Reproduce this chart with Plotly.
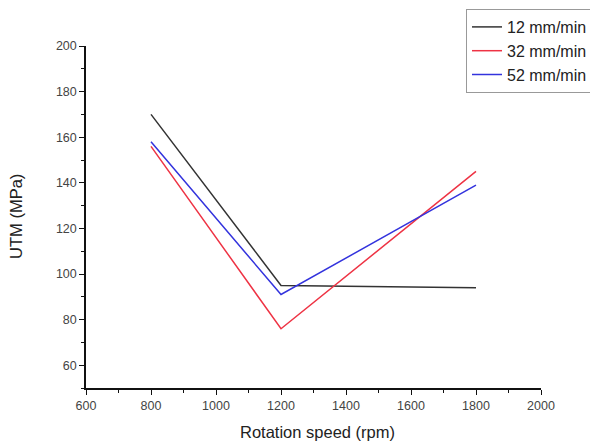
import plotly.graph_objects as go

speeds = [800, 1200, 1800]
series_names = ["12 mm/min", "32 mm/min", "52 mm/min"]
utm_12 = [170, 95, 94]
utm_32 = [156, 76, 145]
utm_52 = [158, 91, 139]
colors = ["#333333", "#ee3344", "#3333dd"]

x_ticks = [600, 800, 1000, 1200, 1400, 1600, 1800, 2000]
y_ticks = [60, 80, 100, 120, 140, 160, 180, 200]
x_title = "Rotation speed (rpm)"
y_title = "UTM (MPa)"

FONT = "Arial, Liberation Sans"

fig = go.Figure()
for name, vals, c in zip(series_names, [utm_12, utm_32, utm_52], colors):
    fig.add_trace(go.Scatter(x=speeds, y=vals, mode="lines", name=name,
                             line=dict(color=c, width=1.5)))

axis_common = dict(showgrid=False, zeroline=False, showline=True, linecolor="#111",
                   linewidth=1.5, ticks="outside", ticklen=5, tickcolor="#111",
                   tickwidth=1.2, automargin=False,
                   tickfont=dict(family=FONT, size=12.5, color="#444"),
                   minor=dict(ticks="outside", ticklen=3, tickcolor="#111", tickwidth=1))

fig.update_xaxes(range=[600, 2000], tickvals=x_ticks, ticktext=[str(v) for v in x_ticks],
                 minor_dtick=100, **axis_common)
fig.update_yaxes(range=[50, 200], tickvals=y_ticks, ticktext=[str(v) for v in y_ticks],
                 minor_dtick=10, minor_tick0=50, **axis_common)

fig.add_annotation(text=x_title, xref="paper", yref="paper", x=0.508, y=-0.129,
                   xanchor="center", yanchor="middle", showarrow=False,
                   font=dict(family=FONT, size=16.5, color="#222"))
fig.add_annotation(text=y_title, xref="paper", yref="paper", x=-0.154, y=0.503,
                   xanchor="center", yanchor="middle", showarrow=False, textangle=-90,
                   font=dict(family=FONT, size=16.5, color="#222"))

fig.update_layout(width=598, height=446, plot_bgcolor="white", paper_bgcolor="white",
                  margin=dict(l=78, r=65, t=38, b=66, autoexpand=False),
                  legend=dict(x=458/598, y=1 - 1/446, xref="container", yref="container",
                              xanchor="left", yanchor="top",
                              bordercolor="#999", borderwidth=1, bgcolor="white",
                              font=dict(family=FONT, size=16, color="#222"),
                              tracegroupgap=0, itemwidth=30))
fig.write_html("out.html")
